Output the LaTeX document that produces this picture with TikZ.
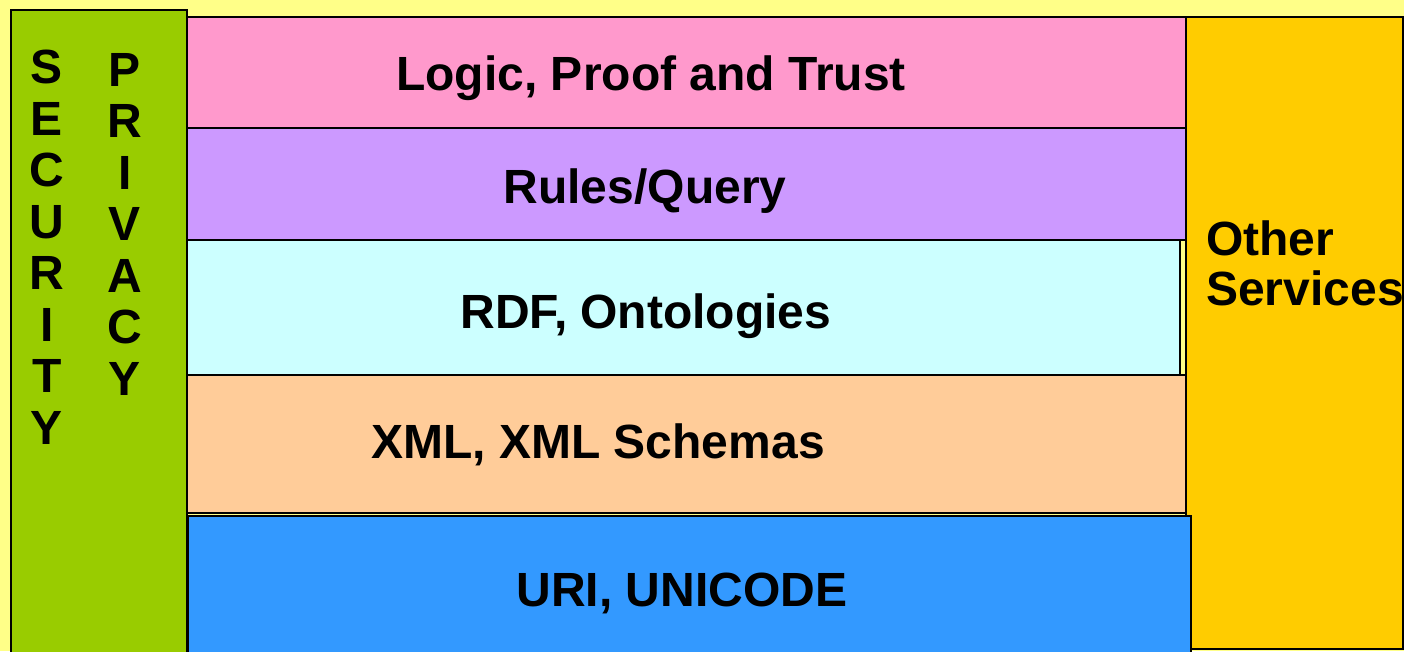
\documentclass[tikz,border=0pt]{standalone}
\usepackage{fontspec}
\setmainfont{Liberation Sans}
\definecolor{bgyellow}{HTML}{FFFF88}
\definecolor{secgreen}{HTML}{99CC00}
\definecolor{lpink}{HTML}{FF99CC}
\definecolor{lpurple}{HTML}{CC99FF}
\definecolor{lcyan}{HTML}{CCFFFF}
\definecolor{lpeach}{HTML}{FFCC99}
\definecolor{lblue}{HTML}{3399FF}
\definecolor{lorange}{HTML}{FFCC00}
\tikzset{
  layer/.style={draw=black, line width=2pt},
  lbl/.style={font=\fontsize{48}{51.5}\selectfont\bfseries, inner sep=0pt},
  vlbl/.style={lbl, align=center, anchor=north},
}
\begin{document}
\begin{tikzpicture}[x=1pt,y=-1pt]
\fill[bgyellow] (0,0) rectangle (1404,651);
\useasboundingbox (0,0) rectangle (1404,651);
% security / privacy column
\fill[secgreen] (11,10) rectangle (187,660);
\draw[line width=2pt] (11,660) -- (11,10) -- (187,10) -- (187,660);
% layers
\draw[layer, fill=lpink]   (187,17) rectangle (1186,128);
\draw[layer, fill=lpurple] (187,128) rectangle (1186,240);
\draw[layer, fill=lcyan]   (187,240) rectangle (1180,375);
\draw[layer, fill=lpeach]  (187,375) rectangle (1186,513);
\draw[layer, fill=lorange] (1186,17) rectangle (1403,649);
\draw[layer, fill=lblue]   (188,516) rectangle (1191,660);
% texts
\node[lbl] (logic) at (651,78) {Logic, Proof and Trust};
\node[lbl] (rules) at (645,191) {Rules/Query};
\node[lbl] (rdf) at (646,316) {RDF, Ontologies};
\node[lbl] (xml) at (598,445) {XML, XML Schemas};
\node[lbl] (uri) at (682,593) {URI, UNICODE};
\node[lbl, font=\fontsize{48}{50}\selectfont\bfseries, align=left, anchor=north west] (other) at (1206,221) {Other\\Services};
\node[vlbl] (security) at (47,50) {S\\E\\C\\U\\R\\I\\T\\Y};
\node[vlbl] (privacy) at (125,53) {P\\R\\I\\V\\A\\C\\Y};
\end{tikzpicture}
\end{document}
